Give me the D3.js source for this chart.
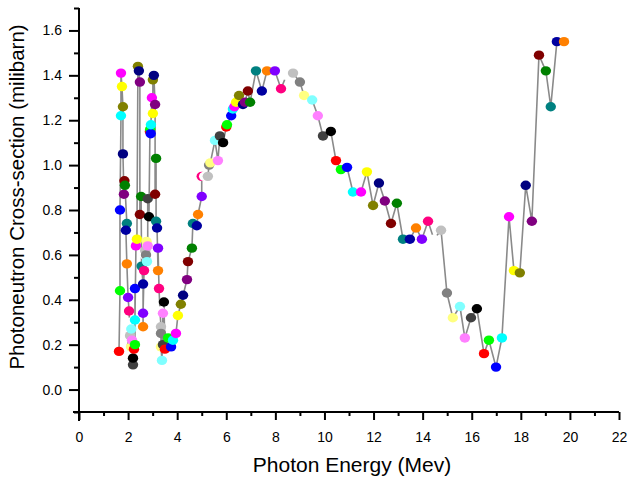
<!DOCTYPE html>
<html>
<head>
<meta charset="utf-8">
<script src="https://cdn.jsdelivr.net/npm/d3@7"></script>
<style>
  body { margin: 0; background: #fff; }
  svg { font-family: "Liberation Sans", Arial, sans-serif; }
</style>
</head>
<body>
<svg width="630" height="479"></svg>
<script>
// photon energy (MeV)
const energy = [
    1.63, 1.67, 1.67, 1.71, 1.71, 1.75, 1.79, 1.79, 1.83, 1.85, 1.87, 1.95, 1.91, 1.95, 2.00, 2.04, 2.06, 2.08, 2.16, 2.12, 2.13, 2.16, 2.20, 2.20,
    2.24, 2.28, 2.28, 2.28, 2.32, 2.36, 2.40, 2.44, 2.48, 2.48, 2.53, 2.55, 2.61, 2.61, 2.61, 2.65, 2.68, 2.70, 2.73, 2.75, 2.77, 2.80, 2.80, 2.85,
    2.89, 2.90, 2.92, 2.93, 2.97, 3.01, 3.01, 3.05, 3.10, 3.10, 3.14, 3.14, 3.18, 3.22, 3.22, 3.26, 3.30, 3.34, 3.34, 3.34, 3.38, 3.42, 3.42, 3.46,
    3.50, 3.63, 3.75, 3.83, 3.95, 4.03, 4.15, 4.24, 4.40, 4.44, 4.60, 4.64, 4.80, 4.85, 5.00, 5.00, 5.10, 5.25, 5.30, 5.35, 5.54, 5.66, 5.74, 5.87,
    6.00, 6.03, 6.20, 6.27, 6.33, 6.40, 6.52, 6.68, 6.76, 6.88, 6.97, 7.21, 7.45, 7.66, 7.98, 8.23, 8.45, 8.72, 9.00, 9.17, 9.50, 9.73, 9.94, 10.26,
    10.47, 10.67, 10.92, 11.16, 11.49, 11.73, 11.98, 12.22, 12.46, 12.71, 12.95, 13.20, 13.48, 13.73, 13.97, 14.22, 14.46, 14.75, 14.99, 15.23, 15.52, 15.72, 15.97, 16.21,
    16.50, 16.70, 16.99, 17.23, 17.52, 17.72, 17.96, 18.20, 18.45, 18.74, 19.02, 19.22, 19.47, 19.76
];

// photoneutron cross-section (milibarn)
const crossSection = [
    0.17, 0.44, 0.80, 1.22, 1.41, 1.35, 1.26, 1.05, 0.87, 0.93, 0.91, 0.74, 0.71, 0.56, 0.41, 0.35, 0.30, 0.24, 0.20, 0.19, 0.27, 0.22, 0.11, 0.14,
    0.18, 0.20, 0.45, 0.31, 0.64, 0.67, 1.44, 1.42, 1.37, 0.78, 0.86, 0.55, 0.47, 0.28, 0.34, 0.53, 0.60, 0.62, 0.60, 0.66, 0.57, 0.64, 0.85, 0.77,
    1.15, 1.16, 1.14, 1.18, 1.30, 1.23, 1.38, 1.40, 1.27, 0.87, 1.03, 0.75, 0.72, 0.53, 0.63, 0.45, 0.35, 0.28, 0.25, 0.19, 0.13, 0.34, 0.20, 0.39,
    0.18, 0.23, 0.19, 0.22, 0.25, 0.33, 0.38, 0.42, 0.49, 0.57, 0.63, 0.74, 0.73, 0.78, 0.86, 0.95, 0.95, 0.95, 1.00, 1.01, 1.11, 1.02, 1.13, 1.10,
    1.17, 1.18, 1.22, 1.25, 1.26, 1.28, 1.31, 1.27, 1.28, 1.33, 1.28, 1.42, 1.33, 1.42, 1.42, 1.34, 1.40, 1.41, 1.37, 1.31, 1.29, 1.22, 1.13, 1.15,
    1.02, 0.98, 0.99, 0.88, 0.88, 0.97, 0.82, 0.92, 0.84, 0.74, 0.83, 0.67, 0.67, 0.72, 0.67, 0.75, 0.67, 0.71, 0.43, 0.32, 0.37, 0.23, 0.32, 0.36,
    0.16, 0.22, 0.10, 0.23, 0.77, 0.53, 0.52, 0.91, 0.75, 1.49, 1.42, 1.26, 1.55, 1.55
];

// symbol colours cycle like Origin's default colour list; the first point is red
const palette = [
    "#000000", "#ff0000", "#00ff00", "#0000ff", "#00ffff", "#ff00ff", "#ffff00", "#808000",
    "#000080", "#800080", "#800000", "#008000", "#008080", "#0000a0", "#ff8000", "#8000ff",
    "#ff0080", "#ffffff", "#c0c0c0", "#808080", "#ffff80", "#80ffff", "#ff80ff", "#404040"
];
const colorOffset = 1;

const xTicks = d3.range(0, 23, 2);
const yTicks = d3.range(0, 1.61, 0.2);

const points = energy.map((e, i) => ({ x: e, y: crossSection[i], i: i }));

const svg = d3.select("svg");

const x = d3.scaleLinear().domain([0, 22]).range([79, 619]);
const y = d3.scaleLinear().domain([-0.1, 1.7]).range([412, 8]);

// line through all points
const line = d3.line().x(d => x(d.x)).y(d => y(d.y));

svg.append("path")
    .datum(points)
    .attr("d", line)
    .attr("fill", "none")
    .attr("stroke", "#8a8a8a")
    .attr("stroke-width", 1.6);

svg.append("g")
    .selectAll("ellipse")
    .data(points)
    .enter().append("ellipse")
        .attr("cx", d => x(d.x))
        .attr("cy", d => y(d.y))
        .attr("rx", 5.2)
        .attr("ry", 4.7)
        .attr("fill", d => palette[(d.i + colorOffset) % palette.length]);

// x axis
const xAxis = svg.append("g").attr("transform", "translate(0," + y(-0.1) + ")");
xAxis.call(d3.axisBottom(x).tickValues(d3.range(1, 22, 2)).tickSize(4).tickFormat(""));
xAxis.call(g => g.append("g").call(d3.axisBottom(x).tickValues(xTicks).tickSize(8).tickPadding(12).tickFormat(d3.format("d"))));
xAxis.selectAll(".domain").attr("d", "M" + (x(0) - 6) + ",0H" + x(22)).attr("stroke-width", 2);
xAxis.selectAll(".tick line").attr("stroke-width", 2);
xAxis.selectAll("text").attr("font-size", 14).attr("fill", "#000").attr("font-family", "Liberation Sans, Arial, sans-serif");

// y axis
const yAxis = svg.append("g").attr("transform", "translate(" + x(0) + ",0)");
yAxis.call(d3.axisLeft(y).tickValues(d3.range(-0.1, 1.75, 0.2)).tickSize(5).tickFormat(""));
yAxis.call(g => g.append("g").call(d3.axisLeft(y).tickValues(yTicks).tickSize(10).tickPadding(7).tickFormat(d3.format(".1f"))));
yAxis.selectAll(".domain").attr("d", "M0," + (y(-0.1) + 9) + "V" + y(1.7));
yAxis.selectAll(".domain, .tick line").attr("stroke-width", 2);
yAxis.selectAll("text").attr("font-size", 14).attr("fill", "#000").attr("font-family", "Liberation Sans, Arial, sans-serif");

svg.append("text")
    .attr("x", 352)
    .attr("y", 472)
    .attr("text-anchor", "middle")
    .attr("font-size", 21)
    .text("Photon Energy (Mev)");

svg.append("text")
    .attr("transform", "translate(24,197) rotate(-90)")
    .attr("text-anchor", "middle")
    .attr("font-size", 20.5)
    .text("Photoneutron Cross-section (milibarn)");
</script>
</body>
</html>
